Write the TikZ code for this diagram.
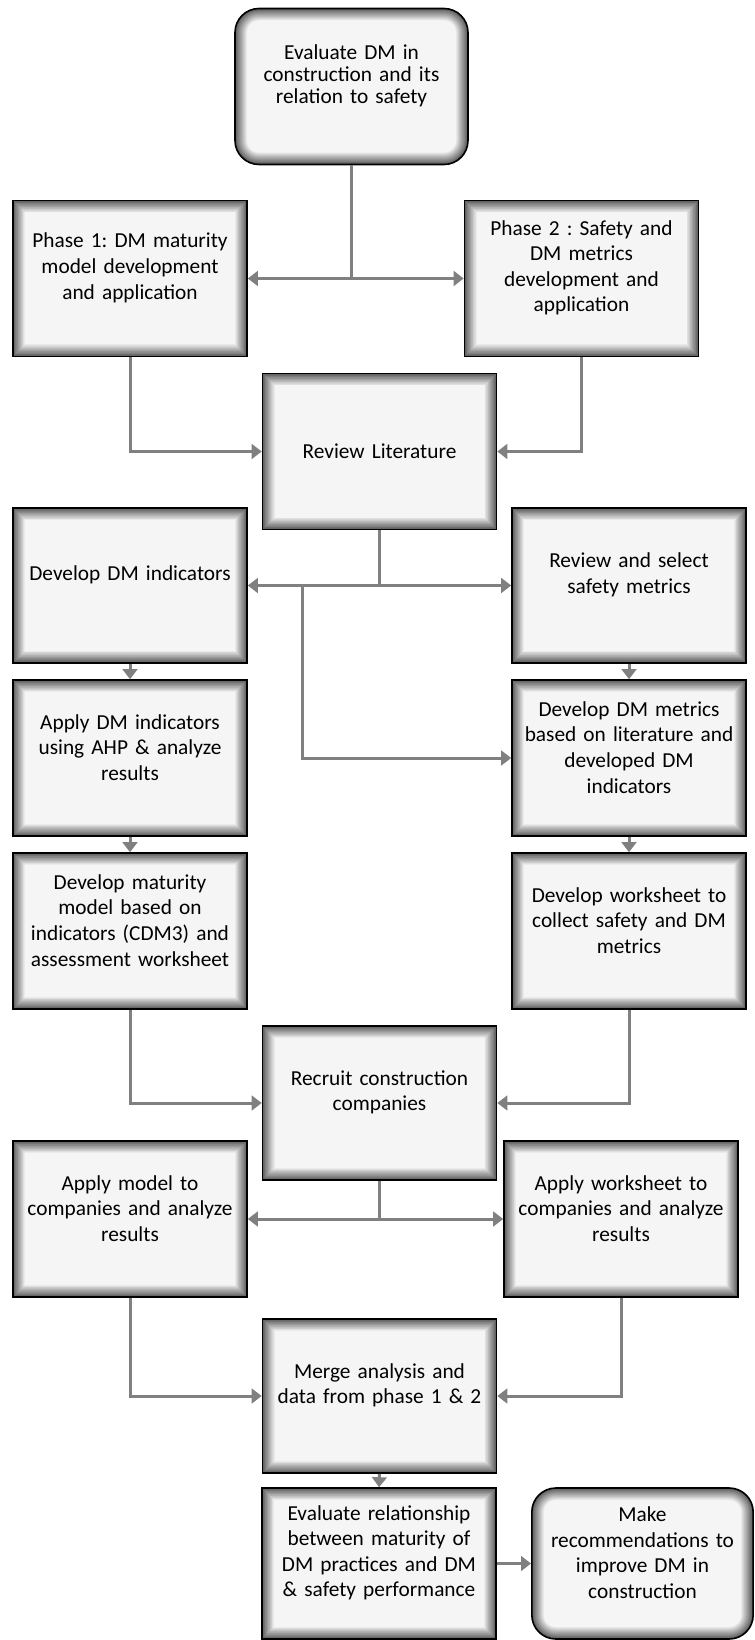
\documentclass[tikz,border=0pt]{standalone}
\usepackage{fontspec}
\setmainfont{Carlito}
\usepackage{tikz}
\usetikzlibrary{arrows.meta, calc}

\newcommand\stepfont{\frenchspacing\fontsize{16pt}{19.2pt}\selectfont}
% soft dark rim inside each box
\newcommand\innerglow[1]{%
  \foreach \d in {1,...,24}{%
    \draw[black, draw opacity=0.045, line width={18pt*(\d/24)^1.6}, rounded corners=#1]
      (path picture bounding box.south west) rectangle (path picture bounding box.north east);}}

\tikzset{
  boxbase/.style={rectangle, draw=black, line width=1.2pt, fill=black!4,
    minimum width=175.5pt, minimum height=117pt, text width=168pt, inner sep=2pt,
    align=center, font=\stepfont, path picture={\innerglow{0pt}}},
  stepbox/.style={boxbase, execute at end node={\par\kern16pt}},
  roundbox/.style={stepbox, rounded corners=18pt, path picture={\innerglow{18pt}}},
  link/.style={draw=black!50, line width=2.25pt},
  arrow/.style={link, -{Triangle[length=7.5pt, width=11pt]}}
}

\begin{document}
\begin{tikzpicture}[x=0.75pt, y=-0.75pt]
  \useasboundingbox (0,0) rectangle (754,1640);

  \node[roundbox, minimum width=174.75pt, font=\frenchspacing\fontsize{16pt}{16.3pt}\selectfont] (eval) at (351.5,86.5) {Evaluate DM in\\construction and its\\relation to safety};

  \node[stepbox] (ph1) at (130,278.5) {Phase 1: DM maturity\\model development\\and application};
  \node[stepbox] (ph2) at (581.5,278.5) {Phase 2 : Safety and\\DM metrics\\development and\\application};
  \node[boxbase] (lit) at (379.5,451.5) {Review Literature};

  \node[stepbox, minimum height=116pt] (dmind) at (130,585.5) {Develop DM indicators};
  \node[stepbox, minimum height=116pt] (safe) at (629,585.5) {Review and select\\safety metrics};
  \node[stepbox] (ahp) at (130,758) {Apply DM indicators\\using AHP \& analyze\\results};
  \node[stepbox] (dmmet) at (629,758) {Develop DM metrics\\based on literature and\\developed DM\\indicators};
  \node[stepbox] (cdm3) at (130,931) {Develop maturity\\model based on\\indicators (CDM3) and\\assessment worksheet};
  \node[stepbox] (wsheet) at (629,931) {Develop worksheet to\\collect safety and DM\\metrics};

  \node[stepbox, minimum height=115.5pt] (recruit) at (379.5,1103) {Recruit construction\\companies};
  \node[stepbox] (applym) at (130,1219) {Apply model to\\companies and analyze\\results};
  \node[stepbox] (applyw) at (621,1219) {Apply worksheet to\\companies and analyze\\results};
  \node[stepbox, minimum height=115.5pt] (merge) at (379.5,1396) {Merge analysis and\\data from phase 1 \& 2};

  \node[stepbox, minimum height=113.25pt] (evalrel) at (379,1563.5) {Evaluate relationship\\between maturity of\\DM practices and DM\\\& safety performance};
  \node[roundbox, minimum width=165.75pt, minimum height=113.25pt, text width=162pt] (makerec) at (642.5,1563.5) {Make\\recommendations to\\improve DM in\\construction};

  % phases
  \draw[link] (eval.south) -- (eval.south |- ph1.east) coordinate (split1);
  \draw[arrow] (split1) -- (ph1.east);
  \draw[arrow] (split1) -- (ph2.west);
  \draw[arrow] (ph1.south) |- (lit.west);
  \draw[arrow] (ph2.south) |- (lit.east);

  % literature
  \draw[link] (lit.south) -- (lit.south |- dmind.east) coordinate (split2);
  \draw[arrow] (split2) -- (dmind.east);
  \draw[arrow] (split2) -- (safe.west);
  \path (dmind.east) ++(55,0) coordinate (split3);
  \draw[arrow] (split3) |- (dmmet.west);

  \draw[arrow] (dmind) -- (ahp);
  \draw[arrow] (ahp) -- (cdm3);
  \draw[arrow] (safe) -- (dmmet);
  \draw[arrow] (dmmet) -- (wsheet);

  % companies
  \draw[arrow] (cdm3.south) |- (recruit.west);
  \draw[arrow] (wsheet.south) |- (recruit.east);
  \draw[link] (recruit.south) -- (recruit.south |- applym.east) coordinate (split4);
  \draw[arrow] (split4) -- (applym.east);
  \draw[arrow] (split4) -- (applyw.west);
  \draw[arrow] (applym.south) |- (merge.west);
  \draw[arrow] (applyw.south) |- (merge.east);

  \draw[arrow] (merge.south) -- (evalrel.north);
  \draw[arrow] (evalrel.east) -- (makerec.west);
\end{tikzpicture}
\end{document}
